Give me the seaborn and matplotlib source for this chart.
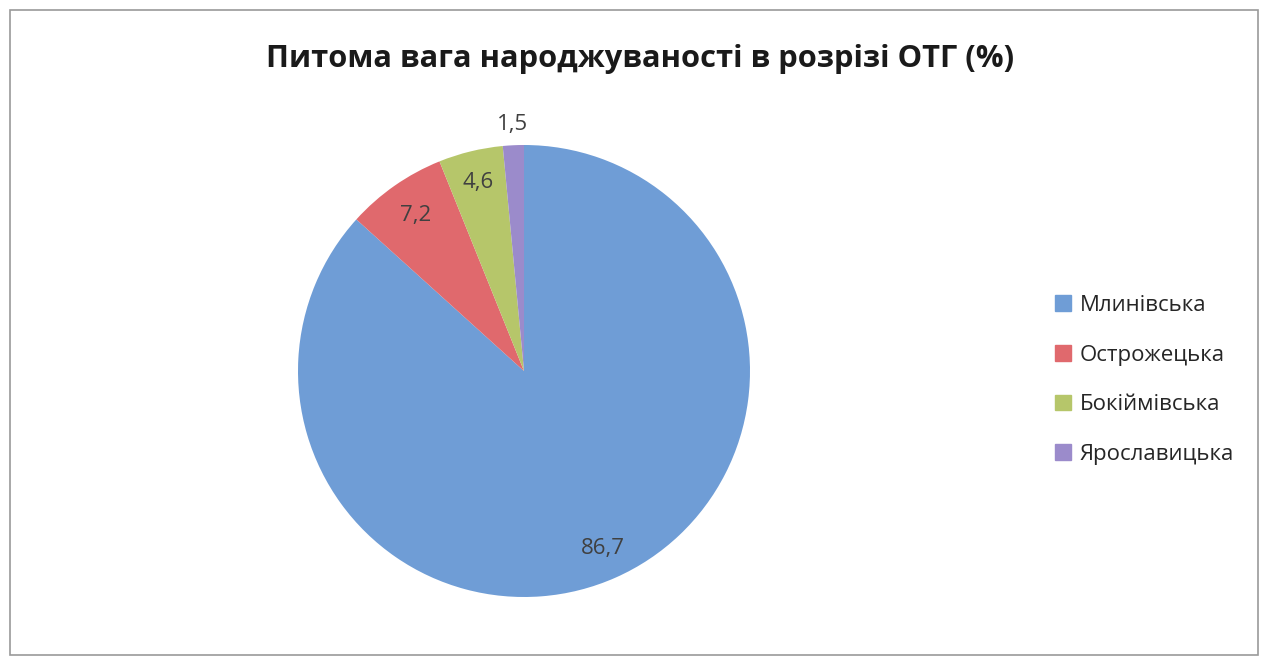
import numpy as np
import matplotlib
matplotlib.use("Agg")
import matplotlib.pyplot as plt
import seaborn as sns
from matplotlib.patches import Rectangle

categories = ["Млинівська", "Острожецька", "Бокіймівська", "Ярославицька"]
values = [86.7, 7.2, 4.6, 1.5]
value_labels = ["86,7", "7,2", "4,6", "1,5"]
title = "Питома вага народжуваності в розрізі ОТГ (%)"

sns.set_theme(style="white")
plt.rcParams['font.family'] = ['Open Sans', 'DejaVu Sans']

colors = sns.color_palette(["#6F9DD6", "#E0696D", "#B6C66A", "#9B8BCB"])

W, H = 1269, 662
fig = plt.figure(figsize=(W / 100, H / 100), dpi=100)
fig.patch.set_facecolor("white")

cx, cy, r = 524, 371, 226
ax = fig.add_axes([(cx - r) / W, (H - cy - r) / H, 2 * r / W, 2 * r / H])
wedges, _ = ax.pie(values, colors=colors, startangle=90, counterclock=False,
                   wedgeprops=dict(linewidth=0))
ax.set_xlim(-1, 1)
ax.set_ylim(-1, 1)
ax.set_aspect("equal")
ax.axis("off")

dists = [0.86, 0.84, 0.86, 1.09]
total = sum(values)
start = 90.0
for v, lab, d in zip(values, value_labels, dists):
    ang = np.deg2rad(start - 360 * v / total / 2)
    start -= 360 * v / total
    ax.text(d * np.cos(ang), d * np.sin(ang), lab, ha="center", va="center",
            fontsize=16, color="#404040", clip_on=False)

fig.text(0.504, 1 - 59 / H, title, ha="center", va="center",
         fontsize=22.2, fontweight="bold", color="#1a1a1a")

handles = [Rectangle((0, 0), 1, 1, color=c) for c in colors]
leg = fig.legend(handles, categories, loc="upper left",
                 bbox_to_anchor=(1035 / W, 1 - 275 / H), frameon=False,
                 fontsize=16, handlelength=0.7, handleheight=0.7,
                 handletextpad=0.4, labelspacing=1.29, labelcolor="#262626")

fig.add_artist(Rectangle((10 / W, 7 / H), 1248 / W, 645 / H, transform=fig.transFigure,
                         fill=False, edgecolor="#9a9a9a", linewidth=1.2))

fig.savefig("out.png", dpi=100, facecolor="white")
